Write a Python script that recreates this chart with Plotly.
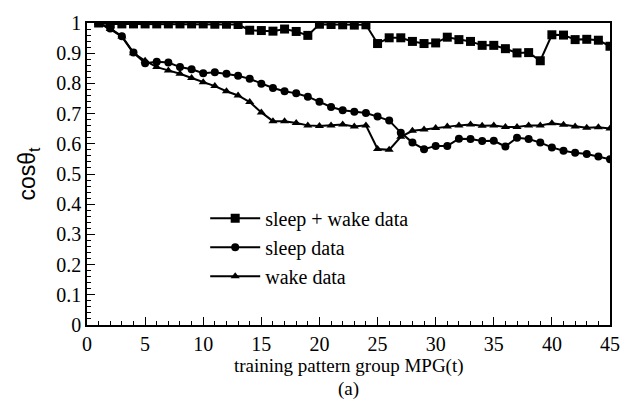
import plotly.graph_objects as go

# Training pattern groups MPG(t), t = 1..45
t = list(range(1, 46))

# cos(theta_t) for each training set
sleep_wake = [1.0, 0.997, 0.997, 0.997, 0.997, 0.997, 0.997, 0.997, 0.997, 0.997,
              0.996, 0.996, 0.995, 0.976, 0.975, 0.973, 0.98, 0.972, 0.959, 0.996,
              0.995, 0.994, 0.993, 0.994, 0.932, 0.951, 0.951, 0.939, 0.932, 0.934,
              0.953, 0.945, 0.939, 0.926, 0.926, 0.915, 0.901, 0.902, 0.875, 0.961,
              0.96, 0.945, 0.946, 0.943, 0.923]
sleep = [1.0, 0.982, 0.956, 0.902, 0.867, 0.872, 0.869, 0.854, 0.847, 0.834,
         0.837, 0.832, 0.825, 0.815, 0.799, 0.785, 0.774, 0.767, 0.756, 0.739,
         0.722, 0.711, 0.706, 0.702, 0.69, 0.677, 0.637, 0.604, 0.582, 0.593,
         0.593, 0.617, 0.616, 0.609, 0.61, 0.591, 0.62, 0.616, 0.604, 0.588,
         0.577, 0.57, 0.566, 0.558, 0.549]
wake = [1.0, 0.98, 0.955, 0.9, 0.875, 0.854, 0.843, 0.832, 0.818, 0.804,
        0.791, 0.774, 0.76, 0.738, 0.704, 0.675, 0.675, 0.669, 0.661, 0.659,
        0.661, 0.664, 0.657, 0.661, 0.583, 0.58, 0.623, 0.643, 0.647, 0.652,
        0.657, 0.661, 0.664, 0.66, 0.661, 0.656, 0.656, 0.661, 0.661, 0.668,
        0.663, 0.657, 0.653, 0.655, 0.651]

series = [
    ("sleep + wake data", sleep_wake, "square", 9),
    ("sleep data", sleep, "circle", 8),
    ("wake data", wake, "triangle-up", 8),
]

serif = "Liberation Serif"
sans = "Liberation Sans"

fig = go.Figure()
for i, (name, vals, sym, size) in enumerate(series):
    fig.add_trace(go.Scatter(
        x=t, y=vals, name=name, mode="lines+markers",
        line=dict(color="black", width=2),
        marker=dict(symbol=sym, size=size, color="black"),
        legendgroup=f"g{i}",
    ))

axis_common = dict(
    showgrid=False, zeroline=False,
    showline=True, linecolor="black", linewidth=1.5, mirror=True,
    ticks="inside", ticklen=8, tickwidth=1, tickcolor="black",
    tickfont=dict(family=serif, size=20, color="black"),
)

fig.update_layout(
    width=632, height=405,
    margin=dict(l=87, r=18, t=17, b=80),
    paper_bgcolor="white", plot_bgcolor="white",
    font=dict(family=serif, color="black"),
    showlegend=True,
    legend=dict(
        x=0.226, y=0.418, xanchor="left", yanchor="top",
        bgcolor="rgba(0,0,0,0)",
        font=dict(family=serif, size=20, color="black"),
        tracegroupgap=0, itemwidth=50,
    ),
    xaxis=dict(
        range=[0, 45], tick0=0, dtick=5,
        minor=dict(dtick=1, ticks="inside", ticklen=4, tickcolor="black"),
        **axis_common,
    ),
    yaxis=dict(
        range=[0, 1], tick0=0, dtick=0.1,
        minor=dict(dtick=0.02, ticks="inside", ticklen=4, tickcolor="black"),
        title=dict(text="cosθ<sub>t</sub>",
                   font=dict(family=sans, size=23, color="black"),
                   standoff=14),
        **axis_common,
    ),
    annotations=[
        dict(text="training pattern group MPG(t)", xref="paper", yref="paper",
             x=0.5, y=0, yshift=-41, showarrow=False, yanchor="middle",
             font=dict(family=serif, size=19, color="black")),
        dict(text="(a)", xref="paper", yref="paper",
             x=0.5, y=0, yshift=-64, showarrow=False, yanchor="middle",
             font=dict(family=serif, size=19, color="black")),
    ],
)

fig.write_html("out.html")
